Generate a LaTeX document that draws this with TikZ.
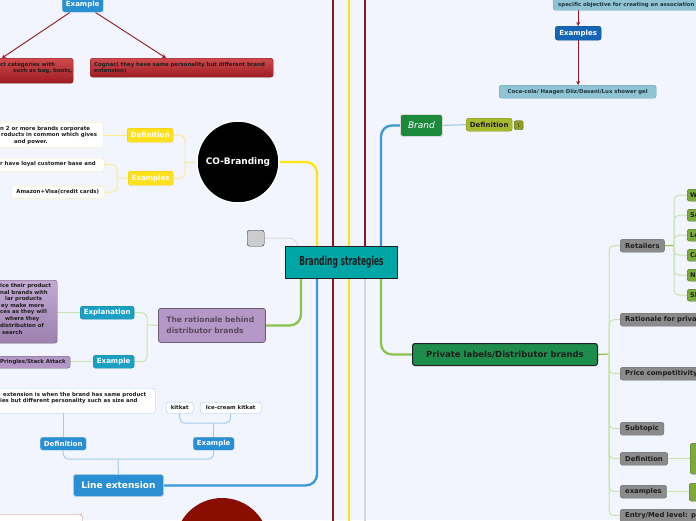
\documentclass[tikz,border=0pt]{standalone}
\usepackage{fontspec}
\setmainfont{DejaVu Sans}
\newfontfamily\condfont{DejaVu Sans Condensed}
\usetikzlibrary{arrows.meta}
\pgfdeclarelayer{back}
\pgfdeclarelayer{lines}
\pgfsetlayers{back,lines,main}
\definecolor{bgc}{HTML}{F2F5FD}
\definecolor{cbfill}{HTML}{00A5A5}
\definecolor{mred}{HTML}{8F1A1A}
\definecolor{myel}{HTML}{FFE414}
\definecolor{mblue}{HTML}{3C97D9}
\definecolor{mgreen}{HTML}{8CC34B}
\definecolor{mgray}{HTML}{D5D5D5}
\definecolor{yelN}{HTML}{FFE01F}
\definecolor{yelD}{HTML}{E8C800}
\definecolor{yelL}{HTML}{FFE98C}
\definecolor{grnL}{HTML}{C9E5AA}
\definecolor{bluN}{HTML}{2A8ED3}
\definecolor{bluL}{HTML}{A3CCEE}
\definecolor{purN}{HTML}{B497C6}
\definecolor{purD}{HTML}{6E5C74}
\definecolor{purT}{HTML}{C2AAD3}
\definecolor{purB}{HTML}{9C80AE}
\definecolor{purTxt}{HTML}{5A4A5E}
\definecolor{tealN}{HTML}{1BA0C3}
\definecolor{tealND}{HTML}{1788A8}
\definecolor{redT}{HTML}{CF4A4E}
\definecolor{redB}{HTML}{9E1C20}
\definecolor{redD}{HTML}{7A2020}
\definecolor{tealL}{HTML}{8FC4D2}
\definecolor{tealLD}{HTML}{6E9EAE}
\definecolor{tealTxt}{HTML}{22343F}
\definecolor{bluD}{HTML}{1766B5}
\definecolor{grnB}{HTML}{1D8A3B}
\definecolor{olv}{HTML}{A7BA2B}
\definecolor{olvD}{HTML}{7F8E1F}
\definecolor{grnP}{HTML}{1E8C4B}
\definecolor{gyN}{HTML}{8B8B8B}
\definecolor{gyD}{HTML}{6E6E6E}
\definecolor{grC}{HTML}{7DAA3C}
\definecolor{grCD}{HTML}{4F6F2A}
\definecolor{botR}{HTML}{C87272}
\definecolor{dredC}{HTML}{8A0E00}
\definecolor{txtD}{HTML}{1E1E1E}
\begin{document}
\begin{tikzpicture}[x=1pt,y=-1pt,
  nb/.style={anchor=north west, inner sep=0pt, rounded corners=2.5pt,
    font=\bfseries\fontsize{7}{8}\selectfont, align=center},
  ln/.style={inner sep=0pt, anchor=west, text=txtD,
    font=\bfseries\fontsize{5.4}{6.5}\selectfont},
  sm/.style={font=\bfseries\fontsize{5.4}{6.5}\selectfont, text=txtD},
  gy/.style={nb, fill=gyN, draw=gyD, text=txtD, minimum height=13pt,
    inner xsep=5pt, font=\bfseries\fontsize{6.8}{8}\selectfont},
  grc/.style={nb, fill=grC, draw=grCD, text=txtD, minimum height=12pt,
    text width=20pt, align=left, inner xsep=3pt,
    font=\bfseries\fontsize{6.5}{7}\selectfont},
  mainc/.style={line width=2.3pt, rounded corners=11pt},
  cthin/.style={line width=1pt, rounded corners=5pt},
  arr/.style={draw=mred, line width=0.9pt, -{Stealth[length=4pt,width=4pt]}}
]
\begin{pgfonlayer}{back}
\fill[bgc] (0,0) rectangle (696,520);
\end{pgfonlayer}
\useasboundingbox (0,0) rectangle (696,520);

% ---------- centre ----------
\node[draw=txtD, fill=cbfill, line width=1pt, minimum width=112pt, minimum height=32pt,
  inner sep=0pt, anchor=north west, text=txtD] (cb) at (285,246)
  {\scalebox{0.67}[1]{\condfont\bfseries\fontsize{12.5}{14}\selectfont Branding strategies}};
\node[nb, fill=black!20, draw=black!80, minimum width=17pt, minimum height=16pt] (gbox) at (247,230) {};

% ---------- top left ----------
\node[nb, fill=bluN, draw=bluL, minimum width=41pt, minimum height=15pt, text=white] (ex1) at (62,-3) {Example};
\node[nb, top color=redT, bottom color=redB, draw=redD, minimum width=93pt, minimum height=25pt] (r1) at (-20,58) {};
\node[ln] (r1a) at (0,65) {ct categories with};
\node[ln] (r1b) at (13,70.7) {such as bag, boots,};
\node[nb, top color=redT, bottom color=redB, draw=redD, text width=175pt, inner xsep=4pt,
  minimum height=19pt, align=left, sm] (r2) at (90,58)
  {Cognac( they have same personality but different brand\\extension)};

% ---------- CO-Branding ----------
\node[circle, fill=black, draw=white, line width=1.5pt, minimum size=82pt, inner sep=0pt,
  text=white, font=\bfseries\fontsize{9}{10}\selectfont] (co) at (238,162) {CO-Branding};
\node[nb, fill=yelN, draw=yelD, minimum width=46pt, minimum height=14pt, text=white] (codef) at (127,128) {Definition};
\node[nb, fill=yelN, draw=yelD, minimum width=45pt, minimum height=14pt, text=white] (coex) at (128,171) {Examples};
\node[nb, fill=white, draw=yelL, minimum width=123pt, minimum height=25pt] (codefc) at (-20,122) {};
\node[ln] (codefa) at (0,129) {n 2 or more brands corporate};
\node[ln] (codefb) at (1,135.5) {roducts in common which gives};
\node[ln] (codefd) at (14,142) {and power.};
\node[nb, fill=white, draw=yelL, minimum width=124pt, minimum height=13pt] (coexc1) at (-20,158) {};
\node[ln] (coexc1t) at (0,164.5) {r have loyal customer base and};
\node[nb, fill=white, draw=yelL, minimum width=93pt, minimum height=12pt, sm] (coexc2) at (11,186) {Amazon+Visa(credit cards)};

% ---------- rationale ----------
\node[nb, fill=purN, draw=purD, line width=0.8pt, text width=91pt, inner xsep=8pt, align=left,
  minimum height=34pt, text=purTxt, font=\bfseries\fontsize{7.5}{10.6}\selectfont] (rat) at (158,308)
  {The rationale behind\\distributor brands};
\node[nb, fill=tealN, draw=tealND, minimum width=54pt, minimum height=13pt, text=white] (ratex) at (80,306) {Explanation};
\node[nb, fill=tealN, draw=tealND, minimum width=41pt, minimum height=13pt, text=white] (ratexa) at (93,355) {Example};
\node[nb, top color=purT, bottom color=purB, draw=purD, minimum width=77pt, minimum height=63pt] (ratexc) at (-20,280) {};
\node[ln] (rx1) at (0,286) {ice their product};
\node[ln] (rx2) at (0,292.6) {nal brands with};
\node[ln] (rx3) at (5,299.1) {lar products};
\node[ln] (rx4) at (1,305.7) {ey make more};
\node[ln] (rx5) at (0,312.3) {ces as they will};
\node[ln] (rx6) at (5,318.9) {where they};
\node[ln] (rx7) at (0,325.4) {distribution of};
\node[ln] (rx8) at (2,332) {search};
\node[nb, fill=purN, draw=purD, minimum width=90pt, minimum height=12pt] (ratexb) at (-20,356) {};
\node[ln] (ratexbt) at (0,362) {Pringles/Stack Attack};

% ---------- line extension ----------
\node[nb, fill=bluN, draw=bluL, line width=0.8pt, minimum width=90pt, minimum height=22pt, text=white,
  font=\bfseries\fontsize{9}{10}\selectfont] (le) at (73,474) {Line extension};
\node[nb, fill=bluN, draw=bluL, minimum width=46pt, minimum height=13pt, text=white] (ledef) at (40,437) {Definition};
\node[nb, fill=bluN, draw=bluL, minimum width=41pt, minimum height=13pt, text=white] (leex) at (193,437) {Example};
\node[nb, fill=white, draw=bluL, minimum width=175pt, minimum height=25pt] (ledefc) at (-20,388) {};
\node[ln] (lda) at (3,395) {extension is when the brand has same product};
\node[ln] (ldb) at (0,400.8) {ies but different personality such as size and};
\node[nb, fill=white, draw=bluL, minimum width=27pt, minimum height=11pt, sm] (kit) at (166,402) {kitkat};
\node[nb, fill=white, draw=bluL, minimum width=61pt, minimum height=11pt, sm] (ick) at (200,402) {Ice-cream kitkat};

% ---------- bottom ----------
\node[circle, fill=dredC, minimum size=94pt, inner sep=0pt] (redc) at (222,545) {};
\node[nb, fill=white, draw=botR, minimum width=102pt, minimum height=20pt] (botbox) at (-20,514) {};

% ---------- top right ----------
\node[nb, fill=tealL, draw=tealLD, minimum width=160pt, minimum height=30pt] (tr1) at (553,-20) {};
\node[ln, text=tealTxt] (tr1t) at (558,5) {specific objective for creating an association};
\node[nb, fill=bluD, draw=bluD!80!black, minimum width=46pt, minimum height=14pt, text=white] (trex) at (555,26) {Examples};
\node[nb, fill=tealL, draw=tealLD, minimum width=157pt, minimum height=13pt, sm, text=tealTxt] (trc) at (499,85)
  {Coca-cola/ Haagen Diiz/Dasani/Lux shower gel};

% ---------- brand ----------
\node[nb, fill=grnB, draw=black!15, line width=0.8pt, minimum width=42pt, minimum height=22pt, text=white,
  font=\itshape\fontsize{9}{10}\selectfont] (brand) at (400,114) {Brand};
\node[nb, fill=olv, draw=olvD, minimum width=46pt, minimum height=13pt, text=txtD] (bdef) at (466,118) {Definition};
\node[nb, fill=olv!85!black, draw=olvD!70!black, minimum width=9pt, minimum height=9pt, rounded corners=2pt,
  text=black!75, font=\fontsize{5}{5}\selectfont] (badge) at (514,120.5) {1};

% ---------- private labels ----------
\node[nb, fill=grnP, draw=txtD, line width=1pt, minimum width=185pt, minimum height=22pt, text=txtD,
  font=\bfseries\fontsize{8.5}{10}\selectfont] (pl) at (412,343) {Private labels/Distributor brands};
\node[gy, minimum width=43pt] (ret) at (620,239) {Retailers};
\node[gy, text width=85pt, align=left] (rat2) at (620,313) {Rationale for priva};
\node[gy, text width=85pt, align=left] (pc) at (620,367) {Price competitivity};
\node[gy, minimum width=42pt] (sub) at (620,422) {Subtopic};
\node[gy, minimum width=46pt] (pdef) at (620,452) {Definition};
\node[gy, minimum width=45pt] (pex) at (620,485) {examples};
\node[gy, text width=85pt, align=left] (entry) at (620,509) {Entry/Med level: p};
\node[grc] (rc1) at (687,189) {W};
\node[grc] (rc2) at (687,209) {Se};
\node[grc] (rc3) at (687,229) {Le};
\node[grc] (rc4) at (687,249) {Ca};
\node[grc] (rc5) at (687,269) {N};
\node[grc] (rc6) at (687,289) {Sl};
\node[nb, fill=grC, draw=grCD, minimum width=20pt, minimum height=31pt] (pdc) at (690,443) {};
\node[nb, fill=grC, draw=grCD, minimum width=20pt, minimum height=18pt] (pxc) at (689,483) {};

% ---------- connectors ----------
\begin{pgfonlayer}{lines}
\coordinate (topA) at (333,-5);
\coordinate (botA) at (333,525);
\coordinate (topB) at (349,-5);
\coordinate (botB) at (349,525);
\coordinate (topC) at (365,-5);
\coordinate (botC) at (365,525);
\draw[mainc, mred] ([xshift=48pt]cb.north west) -- (topA);
\draw[mainc, mred] ([xshift=48pt]cb.south west) -- (botA);
\draw[mainc, myel] ([xshift=64pt]cb.north west) -- (topB);
\draw[mainc, myel] ([xshift=64pt]cb.south west) -- (botB);
\draw[mainc, mred] ([xshift=80pt]cb.north west) -- (topC);
\draw[mainc, mgray] ([xshift=80pt]cb.south west) -- (botC);
\draw[mainc, myel] (co.east) -| ([xshift=32pt]cb.north west);
\draw[mainc, mgreen] (rat.east) -| ([xshift=16pt]cb.south west);
\draw[mainc, mblue] (le.east) -| ([xshift=32pt]cb.south west);
\draw[mainc, mblue] (brand.west) -| ([xshift=96pt]cb.north west);
\draw[mainc, mgreen] (pl.west) -| ([xshift=96pt]cb.south west);
\draw[cthin, black!12, line width=1.2pt, rounded corners=9pt] (gbox.east) -| ([xshift=13pt]cb.north west);

% CO-Branding
\coordinate (cobr) at (185,162);
\draw[cthin, yelL] (co.west) -- (cobr);
\draw[cthin, yelL] (codef.east) -| (cobr);
\draw[cthin, yelL] (coex.east) -| (cobr);
\draw[cthin, yelL] (codef.west) -- (codef.west -| codefc.east);
\coordinate (coexbr) at (117,178);
\draw[cthin, yelL] (coex.west) -- (coexbr);
\draw[cthin, yelL] (coexc1.east) -| (coexbr);
\draw[cthin, yelL] (coexc2.east) -| (coexbr);

% rationale
\coordinate (ratbr) at (147,325);
\draw[cthin, grnL] (rat.west) -- (ratbr);
\draw[cthin, grnL] (ratex.east) -| (ratbr);
\draw[cthin, grnL] (ratexa.east) -| (ratbr);
\draw[cthin, grnL] (ratex.west) -- (ratex.west -| ratexc.east);
\draw[cthin, grnL] (ratexa.west) -- (ratexa.west -| ratexb.east);

% line extension
\coordinate (lebr) at (118,459);
\draw[cthin, bluL] (le.north) -- (lebr);
\draw[cthin, bluL] (ledef.south) |- (lebr);
\draw[cthin, bluL] (leex.south) |- (lebr);
\draw[cthin, bluL] (ledef.north) -- (ledef.north |- ledefc.south);
\coordinate (leexbr) at (213.5,423);
\draw[cthin, bluL] (leex.north) -- (leexbr);
\draw[cthin, bluL] (kit.south) |- (leexbr);
\draw[cthin, bluL] (ick.south) |- (leexbr);

% brand
\draw[cthin, bluL, line width=1.2pt] (brand.east) -- (bdef.west);

% private labels
\coordinate (plbr) at (609,354);
\draw[cthin, mgreen, line width=1.2pt] (pl.east) -- (plbr);
\draw[cthin, grnL] (ret.west) -| (plbr);
\draw[cthin, grnL] (rat2.west) -| (plbr);
\draw[cthin, grnL] (pc.west) -| (plbr);
\draw[cthin, grnL] (sub.west) -| (plbr);
\draw[cthin, grnL] (pdef.west) -| (plbr);
\draw[cthin, grnL] (pex.west) -| (plbr);
\draw[cthin, grnL] (entry.west) -| (plbr);
\coordinate (retbr) at (674,245.5);
\draw[cthin, mgreen, line width=1.2pt] (ret.east) -- (retbr);
\draw[cthin, grnL] (rc1.west) -| (retbr);
\draw[cthin, grnL] (rc2.west) -| (retbr);
\draw[cthin, grnL] (rc3.west) -| (retbr);
\draw[cthin, grnL] (rc4.west) -| (retbr);
\draw[cthin, grnL] (rc5.west) -| (retbr);
\draw[cthin, grnL] (rc6.west) -| (retbr);
\draw[cthin, grnL] (pdef.east) -- (pdef.east -| pdc.west);
\draw[cthin, grnL] (pex.east) -- (pex.east -| pxc.west);

% arrows
\draw[arr] ([xshift=8pt]ex1.south west) -- ([xshift=22pt]r1.north west);
\draw[arr] ([xshift=-8pt]ex1.south east) -- ([xshift=76pt]r2.north west);
\draw[arr] (trex.north |- tr1.south) -- (trex.north);
\draw[arr] (trex.south) -- (trex.south |- trc.north);
\end{pgfonlayer}
\end{tikzpicture}
\end{document}
